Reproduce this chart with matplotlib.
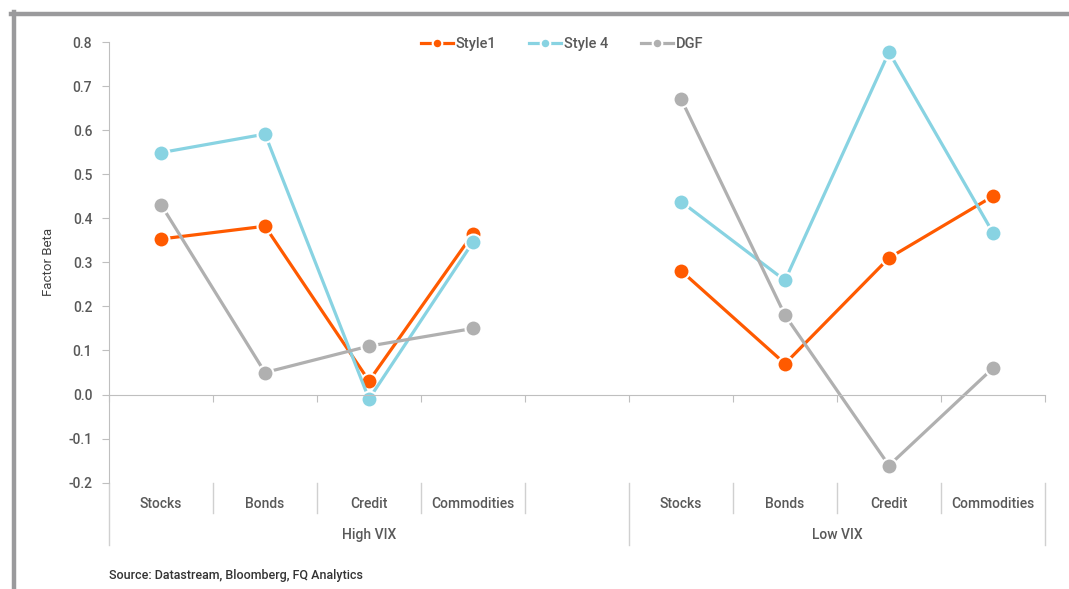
import matplotlib
matplotlib.use("Agg")
import matplotlib.pyplot as plt
import matplotlib.transforms as mtransforms
from matplotlib.lines import Line2D
import numpy as np

plt.rcParams["font.family"] = ["Roboto", "DejaVu Sans"]
plt.rcParams["font.weight"] = "medium"
plt.rcParams["axes.unicode_minus"] = False

groups = ["High VIX", "Low VIX"]
categories = ["Stocks", "Bonds", "Credit", "Commodities"]
series = ["Style1", "Style 4", "DGF"]
colors = ["#FF5A00", "#88D3E2", "#B0B0B0"]

high_vix = {
    "Style1": [0.353, 0.382, 0.031, 0.365],
    "Style 4": [0.549, 0.591, -0.010, 0.346],
    "DGF": [0.431, 0.050, 0.110, 0.150],
}
low_vix = {
    "Style1": [0.281, 0.070, 0.310, 0.450],
    "Style 4": [0.438, 0.259, 0.777, 0.367],
    "DGF": [0.671, 0.180, -0.161, 0.060],
}

GRID = "#BFBFBF"
TXT = "#595959"

fig = plt.figure(figsize=(10.69, 5.89), dpi=100)
ax = fig.add_axes([109 / 1069, 1 - 482.7 / 589, 936 / 1069, 440.7 / 589])

# High VIX occupies slots 0-4 (last one empty), Low VIX slots 5-8
x_high = np.arange(4)
x_low = np.arange(5, 9)

for name, c in zip(series, colors):
    kw = dict(color=c, lw=2.3, marker="o", ms=11.5, mfc=c, mec="white", mew=1.5)
    ax.plot(x_high, high_vix[name], label=name, **kw)
    ax.plot(x_low, low_vix[name], **kw)

ax.set_xlim(-0.5, 8.5)
ax.set_ylim(-0.2, 0.8)
ax.set_yticks(np.arange(-0.2, 0.81, 0.1))
ax.yaxis.set_major_formatter(matplotlib.ticker.FormatStrFormatter("%.1f"))
ax.tick_params(axis="y", length=5, color=GRID, labelcolor=TXT, labelsize=10, pad=7)

for s in ["top", "right"]:
    ax.spines[s].set_visible(False)
ax.spines["left"].set_color(GRID)
ax.spines["bottom"].set_color(GRID)
ax.spines["bottom"].set_position(("data", 0))
ax.set_xticks(np.arange(-0.5, 9, 1))
ax.set_xticklabels([])
ax.tick_params(axis="x", length=5, color=GRID)

ax.set_ylabel("Factor Beta", color="#404040", fontsize=9.5)
ax.yaxis.set_label_coords(-0.058, 0.5)

# category labels below the plot
trans = mtransforms.blended_transform_factory(ax.transData, ax.transAxes)
h = 440.7
y_cat = -21.5 / h
y_grp = -52.5 / h
y_short = -30.5 / h
y_long = -62.5 / h

for xs in (x_high, x_low):
    for xi, cat in zip(xs, categories):
        ax.text(xi, y_cat, cat, transform=trans, ha="center", va="center",
                fontsize=10, color=TXT)
ax.text(2.0, y_grp, groups[0], transform=trans, ha="center", va="center",
        fontsize=10, color=TXT)
ax.text(6.5, y_grp, groups[1], transform=trans, ha="center", va="center",
        fontsize=10, color=TXT)

for b in [0.5, 1.5, 2.5, 3.5, 5.5, 6.5, 7.5]:
    ax.add_line(Line2D([b, b], [0, y_short], transform=trans, color="#D0D0D0",
                       lw=1, clip_on=False))
for b in [-0.5, 4.5, 8.5]:
    ax.add_line(Line2D([b, b], [0, y_long], transform=trans, color="#D0D0D0",
                       lw=1, clip_on=False))

leg = fig.legend(loc="center", bbox_to_anchor=(562 / 1069, 1 - 44 / 589), ncol=3,
                 frameon=False, fontsize=10.5, handlelength=2.2, handletextpad=0.15,
                 columnspacing=2.3, labelcolor=TXT, markerscale=0.6)

fig.text(109 / 1069, 1 - 575 / 589, "Source: Datastream, Bloomberg, FQ Analytics",
         fontsize=9, color="#333333", va="center")

# grey frame at top and left
fig.add_artist(Line2D([11 / 1069, 1], [1 - 14 / 589, 1 - 14 / 589],
                      transform=fig.transFigure, color="#9A9A9C", lw=3.2))
fig.add_artist(Line2D([13.5 / 1069, 13.5 / 1069], [0, 1 - 12 / 589],
                      transform=fig.transFigure, color="#9A9A9C", lw=3.2))

fig.savefig("out.png", dpi=100)
